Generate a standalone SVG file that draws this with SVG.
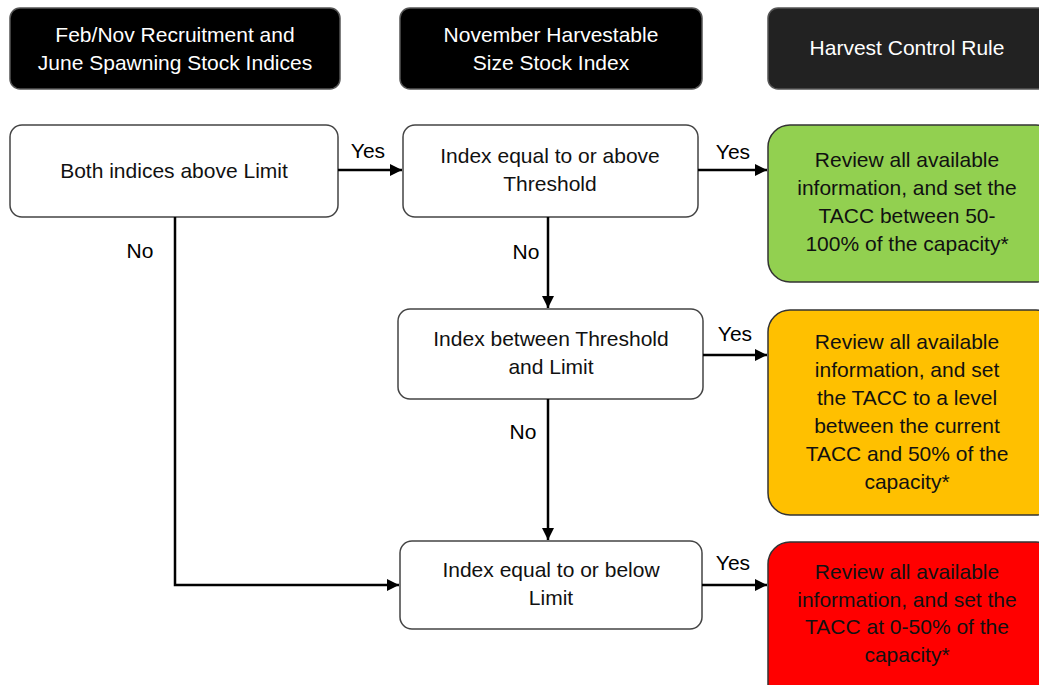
<svg xmlns="http://www.w3.org/2000/svg" width="1039" height="685" viewBox="0 0 1039 685">
<style>
text{font-family:"Liberation Sans",Arial,sans-serif;font-size:21px;text-anchor:middle;fill:#111}
.hd rect{fill:#000;stroke:#555;stroke-width:1.5}
.hd text{fill:#fff}
.nd rect{fill:#fff;stroke:#444;stroke-width:1.5}
.rs rect{stroke:#333;stroke-width:1.5}
.cn{fill:none;stroke:#000;stroke-width:2.5}
.lb{fill:#000}
</style>
<defs>
<marker id="ah" viewBox="0 0 10 10" refX="10" refY="5" markerWidth="5" markerHeight="5" orient="auto" markerUnits="strokeWidth">
<path d="M0,0 L10,5 L0,10 Z" fill="#000"/>
</marker>
</defs>
<g id="h1" class="hd"><rect x="10" y="8" width="330" height="81" rx="10"/><text x="175" y="42">Feb/Nov Recruitment and</text><text x="175" y="70">June Spawning Stock Indices</text></g>
<g id="h2" class="hd"><rect x="400" y="8" width="302" height="81" rx="10"/><text x="551" y="42">November Harvestable</text><text x="551" y="70">Size Stock Index</text></g>
<g id="h3" class="hd"><rect x="768" y="8" width="290" height="81" rx="10" style="fill:#222"/><text x="907" y="55">Harvest Control Rule</text></g>
<g id="n1" class="nd"><rect x="10" y="125" width="328" height="92" rx="12"/><text x="174" y="178">Both indices above Limit</text></g>
<g id="n2" class="nd"><rect x="403" y="125" width="295" height="92" rx="12"/><text x="550" y="163">Index equal to or above</text><text x="550" y="191">Threshold</text></g>
<g id="n3" class="nd"><rect x="398" y="309" width="305" height="90" rx="12"/><text x="551" y="346">Index between Threshold</text><text x="551" y="374">and Limit</text></g>
<g id="n4" class="nd"><rect x="400" y="541" width="302" height="88" rx="12"/><text x="551" y="577">Index equal to or below</text><text x="551" y="605">Limit</text></g>
<g id="r1" class="rs"><rect x="768" y="125" width="290" height="157" rx="22" style="fill:#92d050"/><text x="907" y="167">Review all available</text><text x="907" y="195">information, and set the</text><text x="907" y="223">TACC between 50-</text><text x="907" y="251">100% of the capacity*</text></g>
<g id="r2" class="rs"><rect x="768" y="310" width="290" height="205" rx="22" style="fill:#ffc000"/><text x="907" y="349">Review all available</text><text x="907" y="377">information, and set</text><text x="907" y="405">the TACC to a level</text><text x="907" y="433">between the current</text><text x="907" y="461">TACC and 50% of the</text><text x="907" y="489">capacity*</text></g>
<g id="r3" class="rs"><rect x="768" y="542" width="290" height="170" rx="22" style="fill:#ff0000"/><text x="907" y="579">Review all available</text><text x="907" y="607">information, and set the</text><text x="907" y="634">TACC at 0-50% of the</text><text x="907" y="662">capacity*</text></g>
<g id="connectors">
<path class="cn" d="M338,170 H402" marker-end="url(#ah)"/>
<path class="cn" d="M698,170 H767" marker-end="url(#ah)"/>
<path class="cn" d="M548,217 V308" marker-end="url(#ah)"/>
<path class="cn" d="M703,355 H767" marker-end="url(#ah)"/>
<path class="cn" d="M548,399 V540" marker-end="url(#ah)"/>
<path class="cn" d="M175,217 V585 H399" marker-end="url(#ah)"/>
<path class="cn" d="M702,585 H767" marker-end="url(#ah)"/>
<text class="lb" x="368" y="158">Yes</text>
<text class="lb" x="733" y="159">Yes</text>
<text class="lb" x="526" y="259">No</text>
<text class="lb" x="735" y="341">Yes</text>
<text class="lb" x="523" y="439">No</text>
<text class="lb" x="140" y="258">No</text>
<text class="lb" x="733" y="570">Yes</text>
</g>
</svg>
